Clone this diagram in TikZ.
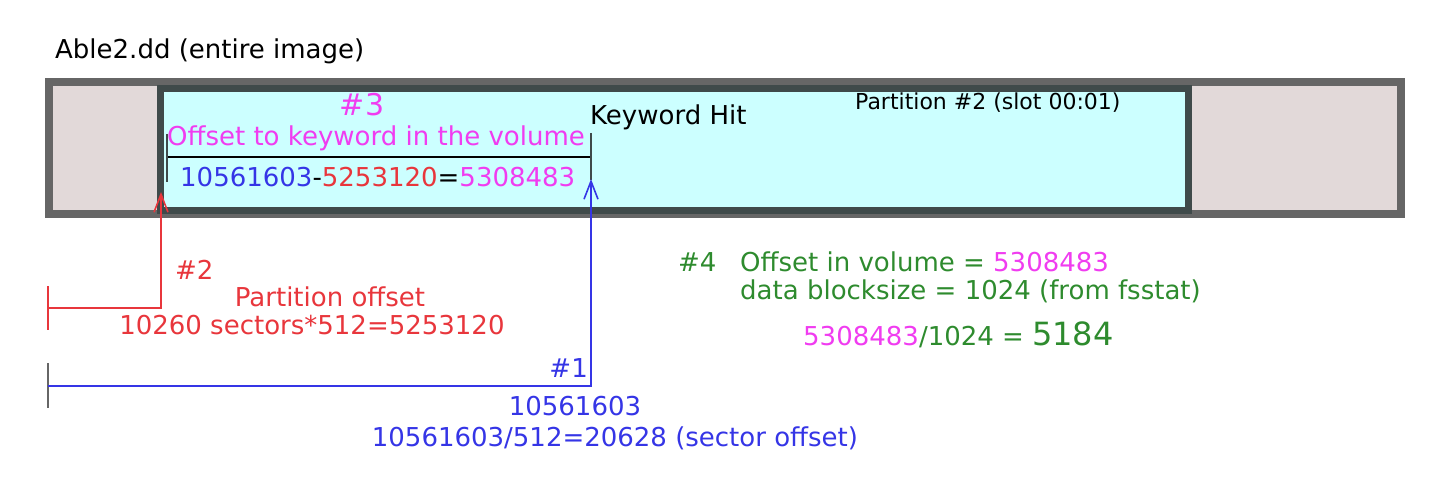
\documentclass[tikz,border=0pt]{standalone}
\usepackage{fontspec}
\setmainfont{DejaVu Sans}
\usetikzlibrary{arrows.meta}
\definecolor{mag}{HTML}{F03CF0}
\definecolor{myred}{HTML}{E8363C}
\definecolor{myblue}{HTML}{3535E6}
\definecolor{mygreen}{HTML}{2E8B2E}
\definecolor{outerfill}{HTML}{E2D9D9}
\definecolor{innerfill}{HTML}{CCFFFF}
\definecolor{outerline}{HTML}{666666}
\definecolor{innerline}{HTML}{3F4A4A}
\begin{document}
\begin{tikzpicture}[x=1pt,y=-1pt,
  txt/.style={inner sep=0pt,font=\fontsize{26}{30}\selectfont},
  small/.style={inner sep=0pt,font=\fontsize{22}{26}\selectfont},
  arr/.style={-{Straight Barb[length=18pt,width=14pt,line width=1.6pt]},line width=1.6pt},
  tick/.style={line width=2pt}]
\useasboundingbox (0,0) rectangle (1446,492);
% title
\node[txt,anchor=base west] (title) at (55,59) {Able2.dd (entire image)};
% outer image rect
\coordinate (imgNW) at (49,82);
\coordinate (imgSE) at (1401,214);
\draw[draw=outerline,fill=outerfill,line width=8pt] (imgNW) rectangle (imgSE);
% partition rect
\coordinate (partNW) at (160,88.5);
\coordinate (partSE) at (1188,210);
\draw[draw=innerline,fill=innerfill,line width=7pt] (partNW) rectangle (partSE);
\node[small,anchor=base west] (plabel) at (855,110) {Partition \#2 (slot 00:01)};
\node[txt,anchor=base west] (kw) at (590,125) {Keyword Hit};
% #3
\node[txt,text=mag,anchor=base] (n3) at (362,116) {\fontsize{30}{34}\selectfont\#3};
\node[txt,text=mag,anchor=base west] (off3) at (167,146) {Offset to keyword in the volume};
\coordinate (kl) at (167,157);
\coordinate (kr) at (591,157);
\draw[line width=2pt] (kl) -- (kr);
\draw[tick,draw=innerline] (167,134) -- (167,182);
\draw[tick,draw=innerline] (591,133) -- (591,180);
\node[txt,anchor=base west] (calc3) at (180,186) {\textcolor{myblue}{10561603}-\textcolor{myred}{5253120}=\textcolor{mag}{5308483}};
% #2 red
\coordinate (rstart) at (48,308);
\coordinate (rcorner) at (161,308);
\coordinate (rtip) at (161,192);
\draw[tick,draw=myred,line width=1.6pt] (48,286) -- (48,330);
\draw[arr,draw=myred] (rstart) -- (rcorner) -- (rtip);
\node[txt,text=myred,anchor=base west] (n2) at (175,279) {\#2};
\node[txt,text=myred,anchor=base] (po) at (330,306) {Partition offset};
\node[txt,text=myred,anchor=base] (pocalc) at (312,334) {10260 sectors*512=5253120};
% #1 blue
\coordinate (bstart) at (48,386);
\coordinate (bcorner) at (591,386);
\coordinate (btip) at (591,179);
\draw[tick,draw=outerline,line width=2.5pt] (48,363) -- (48,408);
\draw[arr,draw=myblue] (bstart) -- (bcorner) -- (btip);
\node[txt,text=myblue,anchor=base east] (n1) at (588,377) {\#1};
\node[txt,text=myblue,anchor=base] (b1) at (575,415) {10561603};
\node[txt,text=myblue,anchor=base] (b2) at (615,446) {10561603/512=20628 (sector offset)};
% #4 green
\node[txt,text=mygreen,anchor=base west] (n4) at (678,271) {\#4};
\node[txt,text=mygreen,anchor=base west] (g1) at (740,271) {Offset in volume = \textcolor{mag}{5308483}};
\node[txt,text=mygreen,anchor=base west] (g2) at (740,299) {data blocksize = 1024 (from fsstat)};
\node[txt,text=mygreen,anchor=base west] (g3) at (803,345) {\textcolor{mag}{5308483}/1024 = {\fontsize{32}{36}\selectfont 5184}};
\end{tikzpicture}
\end{document}
